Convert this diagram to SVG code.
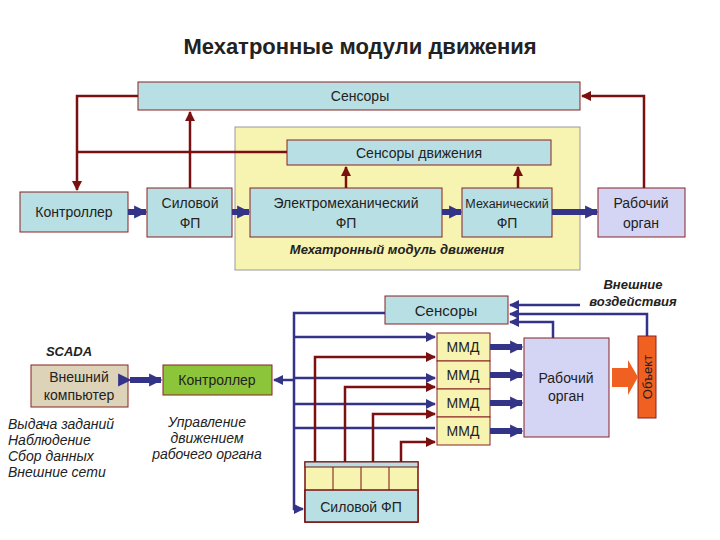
<svg xmlns="http://www.w3.org/2000/svg" width="720" height="540" viewBox="0 0 720 540">
<defs>
<style>
text{font-family:"Liberation Sans",Arial,sans-serif;font-size:14px;fill:#222;text-anchor:middle}
.b{fill:#b8dfe3;stroke:#8a2020;stroke-width:1}
.y{fill:#f7f3b0;stroke:#8a2020;stroke-width:1}
.r{stroke:#7a1010;stroke-width:2.5;fill:none}
.u{stroke:#333388;stroke-width:2.5;fill:none}
.it{font-style:italic}
</style>
<marker id="ar" viewBox="0 0 10 10" refX="9" refY="5" markerWidth="4" markerHeight="4" orient="auto"><path d="M0,0L10,5L0,10z" fill="#7a1010"/></marker>
<marker id="au" viewBox="0 0 10 10" refX="9" refY="5" markerWidth="4" markerHeight="4" orient="auto"><path d="M0,0L10,5L0,10z" fill="#333388"/></marker>
<marker id="big" viewBox="0 0 10 10" refX="9" refY="5" markerWidth="2.2" markerHeight="2.2" orient="auto"><path d="M0,0L10,5L0,10z" fill="#333388"/></marker>
</defs>
<rect width="720" height="540" fill="#fff"/>
<text x="360" y="54" style="font-size:22px;font-weight:bold">Мехатронные модули движения</text>

<g id="top">
<rect x="235" y="127" width="345" height="143" fill="#f7f3b0" stroke="#999"/>
<text x="397" y="254" class="it" style="font-weight:bold;font-size:13px">Мехатронный модуль движения</text>
<g id="sens1"><rect class="b" x="138" y="82" width="442" height="28"/><text x="360" y="101">Сенсоры</text></g>
<g id="sensd"><rect class="b" x="287" y="140" width="264" height="25"/><text x="419" y="158">Сенсоры движения</text></g>
<g id="ctrl1"><rect class="b" x="20" y="192" width="108" height="40"/><text x="74" y="217">Контроллер</text></g>
<g id="sil1"><rect class="b" x="147" y="188" width="85" height="49"/><text x="190" y="208">Силовой</text><text x="190" y="228">ФП</text></g>
<g id="em"><rect class="b" x="250" y="188" width="192" height="49"/><text x="346" y="208">Электромеханический</text><text x="346" y="228">ФП</text></g>
<g id="mech"><rect class="b" x="462" y="188" width="90" height="49"/><text x="507" y="208" style="font-size:12.5px">Механический</text><text x="507" y="228">ФП</text></g>
<g id="ro1"><rect x="598" y="188" width="87" height="49" fill="#d4d4f4" stroke="#8a2020"/><text x="641" y="208">Рабочий</text><text x="641" y="228">орган</text></g>
</g>

<g id="bottom">
<g id="sens2"><rect class="b" x="385" y="296" width="123" height="28"/><text x="446" y="316" style="font-size:15px">Сенсоры</text></g>
<text x="633" y="289" class="it" style="font-weight:bold;font-size:13px">Внешние</text>
<text x="633" y="306" class="it" style="font-weight:bold;font-size:13px">воздействия</text>
<text x="69" y="356" class="it" style="font-weight:bold;font-size:13px">SCADA</text>
<g id="pc"><rect x="31" y="365" width="97" height="42" fill="#ddd3b8" stroke="#8a2020"/><text x="79" y="382">Внешний</text><text x="79" y="400">компьютер</text></g>
<g id="ctrl2"><rect x="163" y="365" width="109" height="30" fill="#8cc43a" stroke="#8a2020"/><text x="217" y="385">Контроллер</text></g>
<g id="mmd">
<rect class="y" x="437" y="333" width="53" height="28"/><text x="463" y="352">ММД</text>
<rect class="y" x="437" y="361" width="53" height="28"/><text x="463" y="380">ММД</text>
<rect class="y" x="437" y="389" width="53" height="28"/><text x="463" y="408">ММД</text>
<rect class="y" x="437" y="417" width="53" height="28"/><text x="463" y="436">ММД</text>
</g>
<g id="ro2"><rect x="524" y="338" width="85" height="99" fill="#d4d4f4" stroke="#8a2020"/><text x="566" y="383">Рабочий</text><text x="566" y="401">орган</text></g>
<g id="obj"><rect x="638" y="336" width="18" height="82" fill="#f06020" stroke="#8a2020"/><text transform="translate(652,377) rotate(-90)" style="font-size:13px">Объект</text></g>
<g id="sil2">
<rect x="305" y="462" width="113" height="60" fill="#f7f3b0" stroke="#7a1010" stroke-width="1.5"/>
<rect x="305" y="462" width="113" height="5" fill="#b8dfe3" stroke="#7a1010"/>
<rect x="305" y="490" width="113" height="32" fill="#b8dfe3" stroke="#7a1010" stroke-width="1.5"/>
<path d="M333,467V490M361,467V490M389,467V490" stroke="#7a1010"/>
<text x="361" y="512">Силовой ФП</text>
</g>
<g class="it" style="font-size:13px">
<text x="8" y="429" style="text-anchor:start">Выдача заданий</text>
<text x="8" y="445" style="text-anchor:start">Наблюдение</text>
<text x="8" y="461" style="text-anchor:start">Сбор данных</text>
<text x="8" y="477" style="text-anchor:start">Внешние сети</text>
<text x="207" y="427">Управление</text>
<text x="207" y="443">движением</text>
<text x="207" y="459">рабочего органа</text>
</g>
</g>

<g id="connectors">
<path class="r" d="M138,96H77V190" marker-end="url(#ar)"/>
<path class="r" d="M287,152H77"/>
<path class="r" d="M190,188V112" marker-end="url(#ar)"/>
<path class="r" d="M346,188V167" marker-end="url(#ar)"/>
<path class="r" d="M518,188V167" marker-end="url(#ar)"/>
<path class="r" d="M644,188V96H582" marker-end="url(#ar)"/>
<g stroke="#333388" stroke-width="6" marker-end="url(#big)">
<path d="M128,212H146"/><path d="M232,212H249"/><path d="M442,212H461"/><path d="M552,212H597"/>
<path d="M490,347H522"/><path d="M490,375H522"/><path d="M490,403H522"/><path d="M490,431H522"/>
<path d="M130,380H161" marker-start="url(#big)"/>
</g>
<path d="M612,368H628V360L638,377L628,395V387H612z" fill="#f06020"/>
<path class="u" d="M385,313H294V509H303" marker-end="url(#au)"/>
<path class="u" d="M294,380H274" marker-end="url(#au)"/>
<path class="u" d="M294,337H435" marker-end="url(#au)"/>
<path class="u" d="M294,378H435" marker-end="url(#au)"/>
<path class="u" d="M294,404H435" marker-end="url(#au)"/>
<path class="u" d="M294,428H435"/>
<path class="r" d="M315,462V357H435" marker-end="url(#ar)"/>
<path class="r" d="M345,462V387H435" marker-end="url(#ar)"/>
<path class="r" d="M373,462V414H435" marker-end="url(#ar)"/>
<path class="r" d="M401,462V442H435" marker-end="url(#ar)"/>
<path class="u" d="M580,305H510" marker-end="url(#au)"/>
<path class="u" d="M647,336V314H510" marker-end="url(#au)"/>
<path class="u" d="M553,338V322H510" marker-end="url(#au)"/>
</g>
</svg>
